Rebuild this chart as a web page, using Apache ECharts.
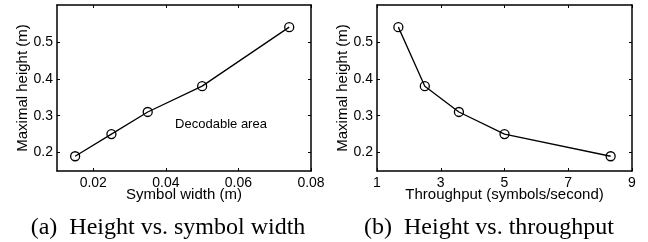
<!DOCTYPE html>
<html><head><meta charset="utf-8">
<style>html,body{margin:0;padding:0;background:#fff}#c{width:648px;height:242px}</style>
<script src="https://cdn.jsdelivr.net/npm/echarts@6/dist/echarts.min.js"></script>
</head><body><div id="c"></div>
<script>
// Panel (a): height vs symbol width
const symbolWidth = [0.015, 0.025, 0.035, 0.05, 0.074];
const heightA = [0.19, 0.25, 0.31, 0.38, 0.54];
// Panel (b): height vs throughput
const throughput = [1.67, 2.5, 3.57, 5, 8.33];
const heightB = [0.54, 0.38, 0.31, 0.25, 0.19];
// Tick labels
const yTicks = [0.2, 0.3, 0.4, 0.5];
const xTicksA = [0.02, 0.04, 0.06, 0.08];
const xTicksB = [1, 3, 5, 7, 9];
const annotation = {text: 'Decodable area', x: 0.0552, y: 0.275};
const captions = ['(a)  Height vs. symbol width', '(b)  Height vs. throughput'];

const SANS = 'Liberation Sans';
const axisLineStyle = {color: '#000', width: 1.5};
const tickStyle = {color: '#000', width: 1};
function xAxis(grid, min, max, ticks, name, show) {
  return {
    type: 'value', gridIndex: grid, min: min, max: max,
    position: show ? 'bottom' : 'top',
    name: show ? name : '', nameLocation: 'middle', nameGap: 16, nameMoveOverlap: false,
    nameTextStyle: {fontFamily: SANS, fontSize: 15, color: '#000'},
    axisLine: {show: true, onZero: false, lineStyle: axisLineStyle},
    axisTick: {show: true, inside: true, length: 3, customValues: ticks, lineStyle: tickStyle},
    axisLabel: {show: show, customValues: ticks, margin: 5, fontFamily: SANS, fontSize: 14, color: '#000',
      formatter: v => String(v)},
    splitLine: {show: false}
  };
}
function yAxis(grid, show) {
  return {
    type: 'value', gridIndex: grid, min: 0.15, max: 0.6,
    position: show ? 'left' : 'right',
    name: show ? 'Maximal height (m)' : '', nameLocation: 'middle', nameGap: 27, nameRotate: 90,
    nameMoveOverlap: false,
    nameTextStyle: {fontFamily: SANS, fontSize: 15, color: '#000'},
    axisLine: {show: true, onZero: false, lineStyle: axisLineStyle},
    axisTick: {show: true, inside: true, length: 3, customValues: yTicks, lineStyle: tickStyle},
    axisLabel: {show: show, customValues: yTicks, margin: 4, fontFamily: SANS, fontSize: 14, color: '#000',
      formatter: v => v.toFixed(1)},
    splitLine: {show: false}
  };
}
function series(xi, yi, xs, ys, extra) {
  const s = {
    type: 'line', xAxisIndex: xi, yAxisIndex: yi,
    data: xs.map((x, i) => [x, ys[i]]),
    symbol: 'circle', symbolSize: 9, showSymbol: true,
    lineStyle: {color: '#000', width: 1.3},
    itemStyle: {color: 'rgba(255,255,255,0)', borderColor: '#000', borderWidth: 1.3},
    silent: true, animation: false, z: 3
  };
  return Object.assign(s, extra || {});
}
const chart = echarts.init(document.getElementById('c'), null, {renderer: 'canvas'});
chart.setOption({
  animation: false,
  grid: [
    {left: 57, right: 337, top: 5, bottom: 71},
    {left: 377, right: 16, top: 5, bottom: 71}
  ],
  xAxis: [
    xAxis(0, 0.01, 0.08, xTicksA, 'Symbol width (m)', true),
    xAxis(0, 0.01, 0.08, xTicksA, '', false),
    xAxis(1, 1, 9, xTicksB, 'Throughput (symbols/second)', true),
    xAxis(1, 1, 9, xTicksB, '', false)
  ],
  yAxis: [yAxis(0, true), yAxis(0, false), yAxis(1, true), yAxis(1, false)],
  series: [
    series(0, 0, symbolWidth, heightA, {
      markPoint: {
        symbol: 'circle', symbolSize: 0, silent: true,
        data: [{coord: [annotation.x, annotation.y], value: annotation.text}],
        label: {show: true, position: 'inside', formatter: annotation.text,
          fontFamily: SANS, fontSize: 13, color: '#000'}
      }
    }),
    series(2, 2, throughput, heightB)
  ],
  graphic: [
    {type: 'text', x: 168, y: 228, style: {text: captions[0], fontFamily: 'Liberation Serif', fontSize: 24,
      fill: '#000', align: 'center', verticalAlign: 'middle'}},
    {type: 'text', x: 489, y: 228, style: {text: captions[1], fontFamily: 'Liberation Serif', fontSize: 24,
      fill: '#000', align: 'center', verticalAlign: 'middle'}}
  ]
});
</script></body></html>
